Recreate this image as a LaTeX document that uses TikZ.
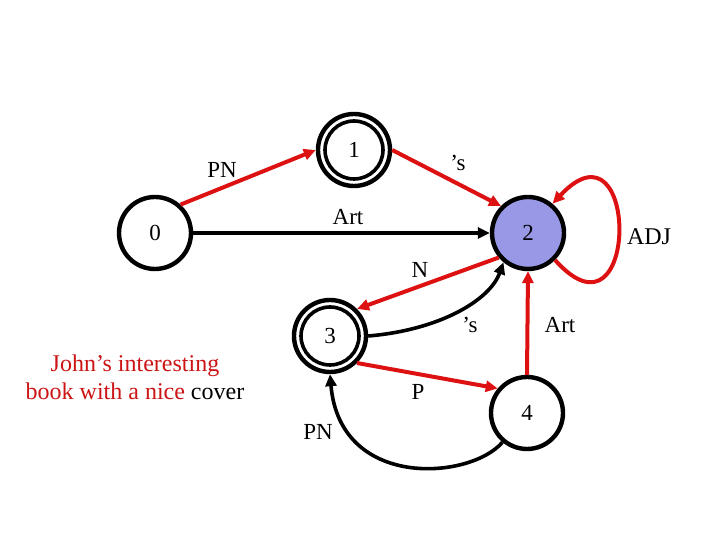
\documentclass[tikz,border=0pt]{standalone}
\usepackage{fontspec}
\setmainfont{Liberation Serif}
\usetikzlibrary{arrows.meta}
\definecolor{edgered}{RGB}{221,17,17}
\definecolor{textred}{RGB}{204,20,20}
\definecolor{statefill}{RGB}{152,152,230}
\begin{document}
\begin{tikzpicture}[x=1pt,y=1pt,
  state/.style={circle,draw=black,line width=4.4pt,minimum size=72pt,inner sep=0pt,font=\fontsize{23}{25}\selectfont},
  innerring/.style={draw=black,line width=3.6pt},
  redarrow/.style={draw=edgered,line width=4pt,-{Triangle[length=12pt,width=11pt]}},
  blackarrow/.style={draw=black,line width=3.6pt,-{Triangle[length=12pt,width=11pt]}},
  lbl/.style={font=\fontsize{23}{25}\selectfont,inner sep=0pt}]
\useasboundingbox (0,0) rectangle (720,540);
\node[state] (n0) at (155,307) {0};
\node[state] (n1) at (354,390) {1};
\node[state,fill=statefill] (n2) at (528,307) {2};
\node[state] (n3) at (330,204) {3};
\node[state] (n4) at (527,127) {4};
\draw[innerring] (n1.center) circle (29);
\draw[innerring] (n3.center) circle (29);
% edges
\draw[redarrow] (n0.48) -- (n1.west);
\draw[redarrow] (n1.east) -- (n2.135);
\draw[blackarrow] (n0) -- (n2);
\draw[redarrow] (n2.-140) -- (n3.45);
\draw[redarrow] (n3.-45) -- (n4.140);
\draw[redarrow] (n4.north) -- (n2.south);
\draw[redarrow] (n2.-45) .. controls (640,185) and (640,430) .. (n2.50);
\draw[blackarrow] (n3.east) .. controls (440,210) and (490,240) .. (n2.-130);
\draw[blackarrow] (n4.-130) .. controls (470,60) and (340,50) .. (n3.south);
% labels
\node[lbl] (lpn1) at (222,370) {PN};
\node[lbl] (ls1) at (458,377) {'s};
\node[lbl] (lart1) at (348,323) {Art};
\node[lbl,font=\fontsize{24}{26}\selectfont] (ladj) at (649,303) {ADJ};
\node[lbl] (ln) at (420,270) {N};
\node[lbl] (ls2) at (470,215) {'s};
\node[lbl] (lart2) at (560,215) {Art};
\node[lbl] (lp) at (418,148) {P};
\node[lbl] (lpn2) at (318,108) {PN};
\node[align=center,font=\fontsize{24}{28}\selectfont,text=textred,inner sep=0pt] (sent) at (135,163)
  {John's interesting\\book with a nice \textcolor{black}{cover}};
\end{tikzpicture}
\end{document}
